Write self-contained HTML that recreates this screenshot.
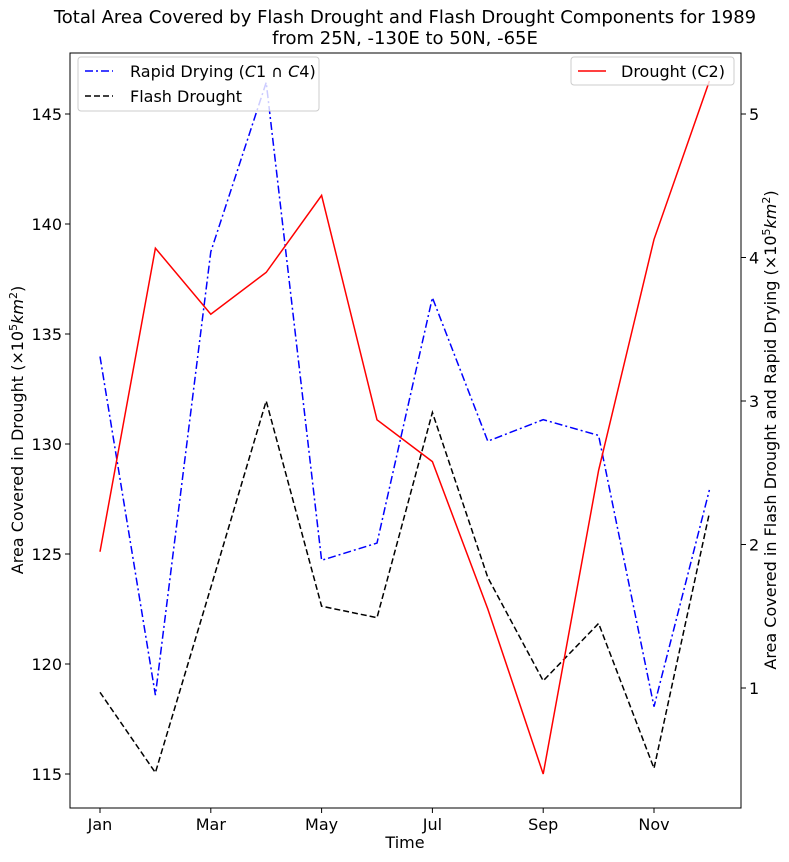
<!DOCTYPE html>
<html><head><meta charset="utf-8"><style>
body{margin:0;background:#fff;font-family:"Liberation Sans","DejaVu Sans",sans-serif;}
svg text{font-family:"DejaVu Sans","Liberation Sans",sans-serif;}
</style></head><body>
<svg id="chart" width="789" height="857" xmlns="http://www.w3.org/2000/svg"></svg>
<script>
const months=["Jan","Feb","Mar","Apr","May","Jun","Jul","Aug","Sep","Oct","Nov","Dec"];
const drought=[125.1,138.9,135.9,137.8,141.3,131.1,129.2,122.5,115.0,128.8,139.3,146.5];
const rapidDrying=[3.31,0.95,4.04,5.22,1.89,2.01,3.72,2.72,2.87,2.76,0.87,2.38];
const flashDrought=[0.97,0.41,1.70,3.00,1.57,1.49,2.92,1.77,1.05,1.45,0.44,2.22];
const leftTicks=[115,120,125,130,135,140,145];
const rightTicks=[1,2,3,4,5];
const xTickIdx=[0,2,4,6,8,10];

const svg=document.getElementById('chart');
const NS="http://www.w3.org/2000/svg";
const L=70,R=741,T=53,B=808;
const x=i=>100+i*55.4;
const yL=v=>774-(v-115)*22;
const yR=v=>688-(v-1)*143.5;
function mk(tag,attrs,txt){const e=document.createElementNS(NS,tag);for(const k in attrs)e.setAttribute(k,attrs[k]);if(txt!==undefined)e.textContent=txt;svg.appendChild(e);return e;}

let t=mk('text',{x:405,y:23,'font-size':18,'text-anchor':'middle'},'Total Area Covered by Flash Drought and Flash Drought Components for 1989');

t=mk('text',{x:405,y:44,'font-size':18,'text-anchor':'middle'},'from 25N, -130E to 50N, -65E');


let f=mk('rect',{x:L,y:T,width:R-L,height:B-T,fill:'none',stroke:'#000','stroke-width':1});


leftTicks.forEach(v=>{const y=yL(v);
 let l=mk('line',{x1:L-5,x2:L,y1:y,y2:y,stroke:'#000'});
 let e=mk('text',{x:L-8,y:y+6,'font-size':16,'text-anchor':'end'},v);});
rightTicks.forEach(v=>{const y=yR(v);
 let l=mk('line',{x1:R,x2:R+5,y1:y,y2:y,stroke:'#000'});
 let e=mk('text',{x:R+8,y:y+6,'font-size':16},v);});
xTickIdx.forEach(i=>{const xx=x(i);
 let l=mk('line',{x1:xx,x2:xx,y1:B,y2:B+5,stroke:'#000'});
 let e=mk('text',{x:xx,y:B+22,'font-size':16,'text-anchor':'middle'},months[i]);});

t=mk('text',{x:405,y:848,'font-size':16,'text-anchor':'middle'},'Time');

t=mk('text',{x:0,y:0,'font-size':16,'text-anchor':'middle',transform:'translate(23,430) rotate(-90)'});
t.innerHTML='Area Covered in Drought (×10<tspan baseline-shift="super" font-size="11">5</tspan><tspan font-style="italic">km</tspan><tspan baseline-shift="super" font-size="11">2</tspan>)';

t=mk('text',{x:0,y:0,'font-size':16,'text-anchor':'middle',transform:'translate(776,430) rotate(-90)'});
t.innerHTML='Area Covered in Flash Drought and Rapid Drying (×10<tspan baseline-shift="super" font-size="11">5</tspan><tspan font-style="italic">km</tspan><tspan baseline-shift="super" font-size="11">2</tspan>)';


function line(data,yf,color,dash,name){
 const p=mk('polyline',{points:data.map((v,i)=>x(i)+','+yf(v)).join(' '),fill:'none',stroke:color,'stroke-width':1.5,'stroke-dasharray':dash});
 }
line(rapidDrying,yR,'#0000ff','8,3,2,3','rapid-drying-line');
line(flashDrought,yR,'#000','6,3','flash-drought-line');
line(drought,yL,'#ff0000','none','drought-line');

let lg=mk('rect',{x:78,y:57,width:241,height:54,rx:3,fill:'#fff','fill-opacity':0.8,stroke:'#ccc'});

let ll=mk('line',{x1:85,x2:113,y1:71,y2:71,stroke:'#00f','stroke-width':1.5,'stroke-dasharray':'8,3,2,3'});
t=mk('text',{x:130,y:77,'font-size':16});t.innerHTML='Rapid Drying (<tspan font-style="italic">C</tspan>1 ∩ <tspan font-style="italic">C</tspan>4)';

ll=mk('line',{x1:85,x2:113,y1:96,y2:96,stroke:'#000','stroke-width':1.5,'stroke-dasharray':'6,3'});
t=mk('text',{x:130,y:102,'font-size':16},'Flash Drought');

lg=mk('rect',{x:571,y:57,width:163,height:28,rx:3,fill:'#fff','fill-opacity':0.8,stroke:'#ccc'});

ll=mk('line',{x1:578,x2:606,y1:71,y2:71,stroke:'#f00','stroke-width':1.5});
t=mk('text',{x:621,y:77,'font-size':16},'Drought (C2)');
</script>
</body></html>
